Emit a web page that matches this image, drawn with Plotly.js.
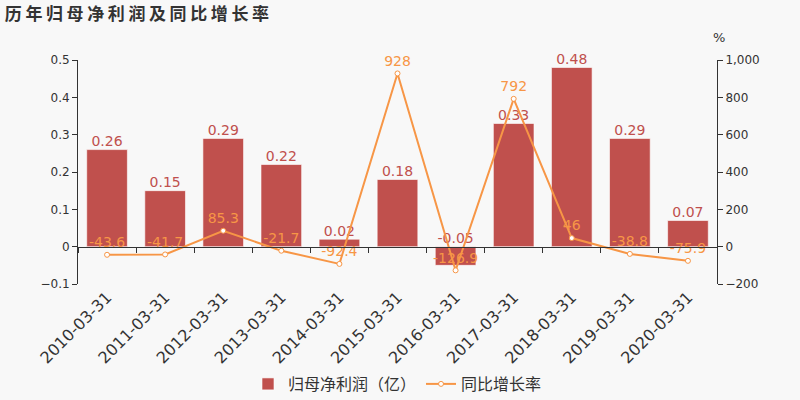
<!DOCTYPE html>
<html>
<head>
<meta charset="utf-8">
<script src="https://cdn.plot.ly/plotly-3.0.1.min.js"></script>
<style>
  body { margin: 0; background: #f8f8f8; }
  #chart { width: 800px; height: 400px; }
  #chart .gtitle { letter-spacing: 3.6px; }
</style>
</head>
<body>
<div id="chart"></div>
<script>
// report dates
let dates = ['2010-03-31', '2011-03-31', '2012-03-31', '2013-03-31', '2014-03-31', '2015-03-31',
  '2016-03-31', '2017-03-31', '2018-03-31', '2019-03-31', '2020-03-31'];
// net profit, 100m yuan
let profit = [0.26, 0.15, 0.29, 0.22, 0.02, 0.18, -0.05, 0.33, 0.48, 0.29, 0.07];
// yoy growth, %
let growth = [-43.6, -41.7, 85.3, -21.7, -92.4, 928, -126.9, 792, 46, -38.8, -75.9];

let barColor = '#c0504d';
let lineColor = '#f79646';
let font = 'DejaVu Sans, Noto Sans CJK SC, sans-serif';

let bars = {
  type: 'bar',
  name: '归母净利润（亿）',
  x: dates,
  y: profit,
  width: 0.7,
  marker: { color: barColor, line: { color: 'rgba(255,255,255,0.6)', width: 1 } },
  hoverinfo: 'x+y'
};

// labels sit above the top edge of each bar (zero for negative ones)
let barLabels = {
  type: 'scatter',
  mode: 'text',
  x: dates,
  y: profit.map(v => Math.max(v, 0)),
  text: profit.map(v => String(v)),
  textposition: 'top center',
  textfont: { family: font, size: 14, color: barColor },
  showlegend: false,
  hoverinfo: 'skip',
  cliponaxis: false
};

let line = {
  type: 'scatter',
  mode: 'lines+markers+text',
  name: '同比增长率',
  x: dates,
  y: growth,
  yaxis: 'y2',
  text: growth.map(v => String(v)),
  textposition: 'top center',
  textfont: { family: font, size: 14, color: lineColor },
  line: { color: lineColor, width: 2 },
  marker: { symbol: 'circle', size: 5, color: '#ffffff', line: { color: lineColor, width: 1 } },
  cliponaxis: false
};

// dummy trace so the zero-line category axis gets drawn
let zeroAxis = {
  type: 'scatter',
  mode: 'markers',
  x: dates,
  y: profit,
  xaxis: 'x2',
  marker: { opacity: 0 },
  showlegend: false,
  hoverinfo: 'skip'
};

let layout = {
  width: 800,
  height: 400,
  paper_bgcolor: '#f8f8f8',
  plot_bgcolor: '#f8f8f8',
  margin: { l: 78, r: 83, t: 60, b: 116 },
  font: { family: font, color: '#333333', size: 12 },
  title: {
    text: '历年归母净利润及同比增长率',
    x: 0.006, xanchor: 'left', y: 0.965, yanchor: 'middle',
    font: { family: 'Noto Sans CJK SC, sans-serif', size: 17, color: '#333333', weight: 'bold' }
  },
  xaxis: {
    type: 'category',
    range: [-0.5, 10.5],
    showline: false,
    ticks: '',
    tickangle: -45,
    tickfont: { size: 16, color: '#333333' },
    showgrid: false,
    zeroline: false
  },
  xaxis2: {
    type: 'category',
    overlaying: 'x',
    anchor: 'free',
    position: 0.165,
    range: [-0.5, 10.5],
    showline: true,
    linecolor: '#333333',
    linewidth: 1,
    ticks: 'outside',
    tickson: 'boundaries',
    ticklen: 5,
    tickcolor: '#333333',
    showticklabels: false,
    showgrid: false
  },
  yaxis: {
    range: [-0.1, 0.5],
    dtick: 0.1,
    showline: true,
    linecolor: '#333333',
    ticks: 'outside',
    ticklen: 5,
    tickcolor: '#333333',
    showgrid: false,
    zeroline: false,
    tickfont: { size: 12 }
  },
  yaxis2: {
    overlaying: 'y',
    side: 'right',
    range: [-200, 1000],
    dtick: 200,
    tickformat: ',',
    showline: true,
    linecolor: '#333333',
    ticks: 'outside',
    ticklen: 5,
    tickcolor: '#333333',
    showgrid: false,
    zeroline: false,
    tickfont: { size: 12 }
  },
  annotations: [{
    text: '%', xref: 'paper', yref: 'paper', x: 1.0, y: 1.06,
    xanchor: 'left', yanchor: 'bottom', showarrow: false, xshift: -6,
    font: { size: 13, color: '#333333' }
  }],
  legend: {
    orientation: 'h',
    x: 0.5, xanchor: 'center',
    yref: 'container',
    y: 0.04, yanchor: 'middle',
    font: { size: 16, color: '#333333' },
    bgcolor: 'rgba(0,0,0,0)'
  },
  bargap: 0.3,
  showlegend: true
};

Plotly.newPlot('chart', [bars, barLabels, line, zeroAxis], layout, { displayModeBar: false, staticPlot: true });
</script>
</body>
</html>
